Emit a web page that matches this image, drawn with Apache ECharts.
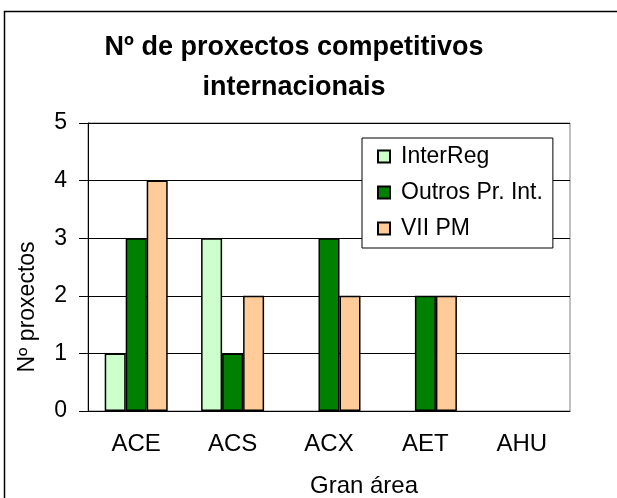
<!DOCTYPE html>
<html>
<head>
<meta charset="utf-8">
<script src="https://cdn.jsdelivr.net/npm/echarts@6/dist/echarts.min.js"></script>
<style>
  html, body {margin: 0; padding: 0; background: #fff;}
  #chart {width: 617px; height: 498px;}
</style>
</head>
<body>
<div id="chart"></div>
<script>
// datos do gráfico
const categories = ['ACE', 'ACS', 'ACX', 'AET', 'AHU'];
const interReg = [1, 3, 0, 0, 0];
const outros = [3, 1, 3, 2, 0];
const viiPM = [4, 2, 2, 2, 0];
const seriesNames = ['InterReg', 'Outros Pr. Int.', 'VII PM'];
const seriesColors = ['#CCFFCC', '#008000', '#FFCC99'];

const font = 'Liberation Sans, Arial, sans-serif';
let chart = echarts.init(document.getElementById('chart'));

function barSeries(name, data, color) {
    return {
        name: name,
        type: 'bar',
        // as barras de valor 0 non se debuxan
        data: data.map(v => v === 0 ? null : v),
        barWidth: 21,
        barGap: '0%',
        itemStyle: {color: color, borderColor: '#000', borderWidth: 1.5},
        emphasis: {disabled: true}
    };
}

chart.setOption({
    animation: false,
    graphic: [
        {   // borde exterior
            type: 'rect',
            shape: {x: 4.5, y: 11.5, width: 700, height: 600},
            style: {fill: 'none', stroke: '#000', lineWidth: 1.5}
        },
        {
            type: 'text',
            style: {
                x: 294, y: 68,
                text: 'Nº de proxectos competitivos\ninternacionais',
                font: 'bold 27px ' + font,
                lineHeight: 40,
                fill: '#000',
                align: 'center',
                verticalAlign: 'middle'
            }
        },
        {
            type: 'text',
            x: 28, y: 307,
            rotation: Math.PI / 2,
            style: {
                text: 'Nº proxectos',
                font: '23px ' + font,
                fill: '#000',
                align: 'center',
                verticalAlign: 'middle'
            }
        },
        {
            type: 'text',
            style: {
                x: 364, y: 486,
                text: 'Gran área',
                font: '24px ' + font,
                fill: '#000',
                align: 'center',
                verticalAlign: 'middle'
            }
        }
    ],
    legend: {
        orient: 'vertical',
        left: 362,
        top: 138,
        data: seriesNames,
        icon: 'rect',
        itemWidth: 12,
        itemHeight: 12,
        itemGap: 13,
        padding: [7, 10, 8, 15],
        borderColor: '#000',
        borderWidth: 1,
        backgroundColor: '#fff',
        textStyle: {fontSize: 23, fontFamily: font, color: '#000', lineHeight: 20, padding: [0, 0, 0, 6]}
    },
    grid: {
        left: 88, right: 47, top: 123, bottom: 87,
        show: true,
        borderColor: '#808080',
        borderWidth: 1
    },
    xAxis: {
        type: 'category',
        data: categories,
        axisLine: {lineStyle: {color: '#000', width: 1}},
        axisTick: {length: 6, lineStyle: {color: '#000'}},
        axisLabel: {fontSize: 24, fontFamily: font, color: '#000', margin: 21}
    },
    yAxis: {
        type: 'value',
        min: 0, max: 5, interval: 1,
        axisLine: {show: true, lineStyle: {color: '#000', width: 1}},
        axisTick: {show: true, inside: false, length: 9, lineStyle: {color: '#000'}},
        axisLabel: {fontSize: 23, fontFamily: font, color: '#000', margin: 21},
        splitLine: {lineStyle: {color: '#000', width: 1}}
    },
    series: [
        barSeries(seriesNames[0], interReg, seriesColors[0]),
        barSeries(seriesNames[1], outros, seriesColors[1]),
        barSeries(seriesNames[2], viiPM, seriesColors[2])
    ]
});
</script>
</body>
</html>
